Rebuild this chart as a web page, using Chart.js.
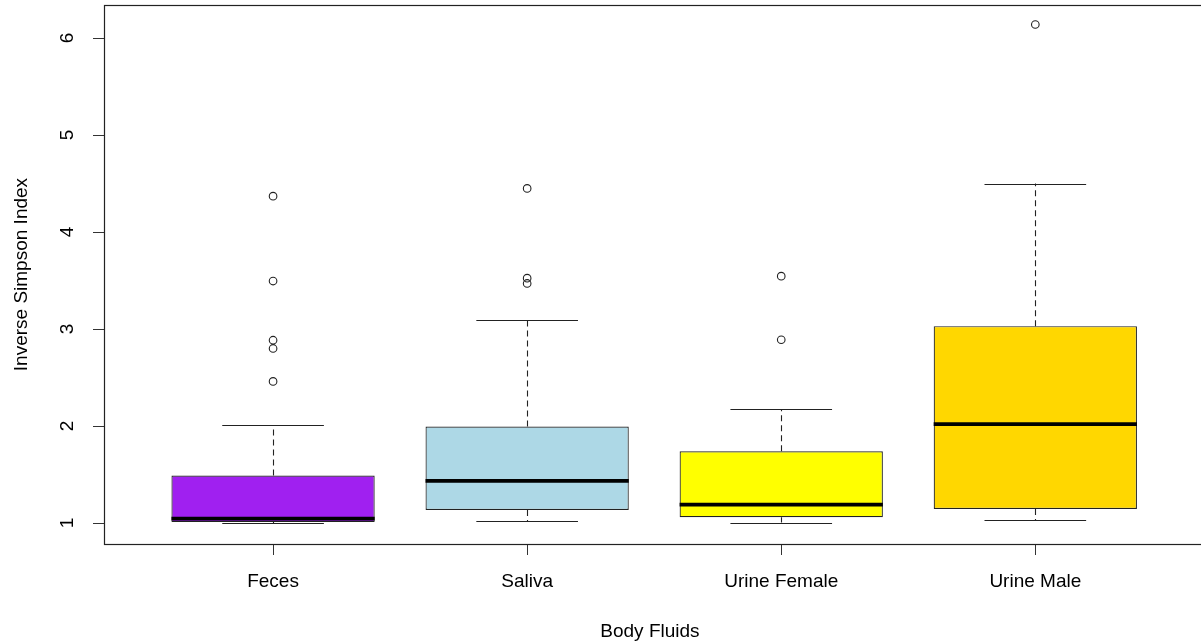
<!DOCTYPE html>
<html lang="en">
<head>
    <meta charset="UTF-8">
    <title>Inverse Simpson Index by Body Fluid</title>
    <script src="https://cdn.jsdelivr.net/npm/chart.js"></script>
    <style>
        html, body { margin: 0; padding: 0; background: #fff; }
    </style>
</head>
<body>
    <canvas id="fluidChart" width="1201" height="644"></canvas>

    <script>
        // Box plot statistics per body fluid
        const fluids = ['Feces', 'Saliva', 'Urine Female', 'Urine Male'];
        const boxColors = ['#A020F0', '#ADD8E6', '#FFFF00', '#FFD700'];
        const lowerWhisker = [0.997, 1.02, 1.005, 1.03];
        const q1 = [1.01, 1.135, 1.06, 1.145];
        const medians = [1.045, 1.435, 1.19, 2.02];
        const q3 = [1.49, 1.995, 1.74, 3.03];
        const upperWhisker = [2.01, 3.095, 2.175, 4.50];
        const outliers = [
            [4.37, 3.495, 2.885, 2.80, 2.46],
            [4.45, 3.525, 3.47],
            [3.545, 2.89],
            [6.14]
        ];
        const yTicks = [1, 2, 3, 4, 5, 6];

        // whiskers, staples, medians and the plot frame
        const boxParts = {
            id: 'boxParts',
            afterDatasetsDraw(chart) {
                const { ctx, chartArea, scales: { x, y } } = chart;
                ctx.save();

                // frame (right edge falls just outside the canvas, like the original)
                ctx.strokeStyle = '#222';
                ctx.lineWidth = 1.2;
                ctx.strokeRect(Math.round(chartArea.left) + 0.5, Math.round(chartArea.top) + 0.5,
                    chartArea.width + 20, Math.round(chartArea.bottom - chartArea.top));

                fluids.forEach((f, i) => {
                    const cx = Math.round(x.getPixelForValue(i + 1)) + 0.5;
                    const boxL = x.getPixelForValue(i + 1 - 0.4);
                    const boxR = x.getPixelForValue(i + 1 + 0.4);
                    const capL = x.getPixelForValue(i + 1 - 0.2);
                    const capR = x.getPixelForValue(i + 1 + 0.2);

                    // dashed whiskers
                    ctx.strokeStyle = '#222';
                    ctx.lineWidth = 1.1;
                    ctx.setLineDash([6, 4]);
                    ctx.beginPath();
                    ctx.moveTo(cx, y.getPixelForValue(q3[i]));
                    ctx.lineTo(cx, y.getPixelForValue(upperWhisker[i]));
                    ctx.moveTo(cx, y.getPixelForValue(q1[i]));
                    ctx.lineTo(cx, y.getPixelForValue(lowerWhisker[i]));
                    ctx.stroke();
                    ctx.setLineDash([]);

                    // staples
                    ctx.beginPath();
                    [upperWhisker[i], lowerWhisker[i]].forEach(v => {
                        const py = Math.round(y.getPixelForValue(v)) + 0.5;
                        ctx.moveTo(capL, py);
                        ctx.lineTo(capR, py);
                    });
                    ctx.stroke();

                    // median
                    ctx.strokeStyle = '#000';
                    ctx.lineWidth = 3.8;
                    ctx.beginPath();
                    const my = y.getPixelForValue(medians[i]);
                    ctx.moveTo(boxL, my);
                    ctx.lineTo(boxR, my);
                    ctx.stroke();
                });
                ctx.restore();
            }
        };

        // keep the plot region fixed, whatever the rotated labels ask for
        function noPadding(s) {
            s.paddingTop = 0;
            s.paddingBottom = 0;
            s.paddingLeft = 0;
            s.paddingRight = 0;
        }

        Chart.defaults.font.family = "'Liberation Sans', Arial, sans-serif";
        Chart.defaults.font.size = 19;
        Chart.defaults.color = '#000';

        const ctx = document.getElementById('fluidChart').getContext('2d');
        new Chart(ctx, {
            type: 'bar',
            data: {
                datasets: [
                    {
                        type: 'bar',
                        label: 'Interquartile range',
                        data: fluids.map((f, i) => ({ x: i + 1, y: [q1[i], q3[i]] })),
                        backgroundColor: boxColors,
                        borderColor: '#222',
                        borderWidth: 1.2,
                        borderSkipped: false,
                        barPercentage: 0.8,
                        categoryPercentage: 1
                    },
                    {
                        type: 'scatter',
                        label: 'Outliers',
                        data: outliers.flatMap((vals, i) => vals.map(v => ({ x: i + 1, y: v }))),
                        pointStyle: 'circle',
                        pointRadius: 3.8,
                        borderColor: '#222',
                        borderWidth: 1.1,
                        backgroundColor: 'rgba(0,0,0,0)'
                    }
                ]
            },
            options: {
                responsive: false,
                animation: false,
                layout: { padding: { top: 5, right: 0, bottom: 0, left: 0 } },
                plugins: {
                    legend: { display: false },
                    tooltip: { enabled: false }
                },
                scales: {
                    x: {
                        type: 'linear',
                        min: 0.3346,
                        max: 4.632,
                        offset: false,
                        afterBuildTicks: s => { s.ticks = fluids.map((f, i) => ({ value: i + 1 })); },
                        afterFit: s => { s.height = 100; noPadding(s); },
                        grid: { drawOnChartArea: false, drawTicks: true, tickLength: 11, color: '#333', offset: false },
                        border: { display: false },
                        ticks: { padding: 15, autoSkip: false, maxRotation: 0, callback: v => fluids[v - 1] },
                        title: { display: true, text: 'Body Fluids', padding: { top: 0, bottom: 1 } }
                    },
                    y: {
                        type: 'linear',
                        min: 0.784,
                        max: 6.34,
                        afterBuildTicks: s => { s.ticks = yTicks.map(v => ({ value: v })); },
                        afterFit: s => { s.width = 104; noPadding(s); },
                        grid: { drawOnChartArea: false, drawTicks: true, tickLength: 11, color: '#333' },
                        border: { display: false },
                        ticks: { minRotation: 90, maxRotation: 90, crossAlign: 'center', padding: 20, callback: v => v },
                        title: { display: true, text: 'Inverse Simpson Index', padding: { top: 10, bottom: 0 } }
                    }
                }
            },
            plugins: [boxParts]
        });
    </script>
</body>
</html>
